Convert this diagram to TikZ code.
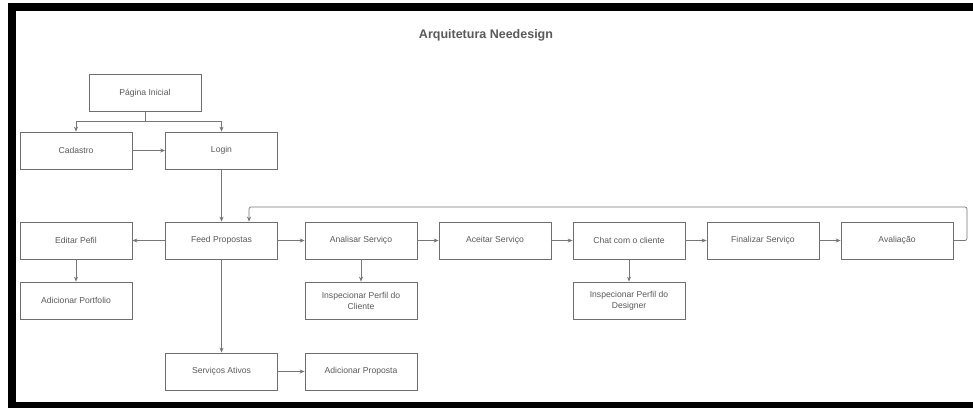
\documentclass[tikz,border=0pt]{standalone}
\usepackage{fontspec}
\setmainfont{Liberation Sans}
\usepackage{tikz}
\usetikzlibrary{arrows.meta}
\usetikzlibrary{backgrounds}

\definecolor{boxgray}{HTML}{6E6E6E}
\definecolor{linegray}{HTML}{777777}
\definecolor{textgray}{HTML}{5A5A5A}

\begin{document}
\begin{tikzpicture}[x=1pt,y=-1pt]
	\useasboundingbox (0,0) rectangle (973,408);
	\fill[white] (0,0) rectangle (973,408);
	\fill[black] (8,3) rectangle (973,408);
	\fill[white] (16,11) rectangle (973,402);

	\node[text=textgray, font=\bfseries\fontsize{12.5}{14}\selectfont] (titulo) at (486,35) {Arquitetura Needesign};

	\begin{scope}[every node/.style={rectangle, draw=boxgray, line width=0.8pt, fill=white,
	              minimum width=112pt, minimum height=37pt, inner sep=0pt, align=center,
	              text=textgray, font=\fontsize{8.6}{11}\selectfont}]
		\node (inicial) at (145,93) {Página Inicial};
		\node (cadastro) at (76,150.5) {Cadastro};
		\node (login) at (221.5,150.5) {Login};
		\node (editar) at (76,240.5) {Editar Pefil};
		\node (feed) at (221.5,240.5) {Feed Propostas};
		\node (analisar) at (361,240.5) {Analisar Serviço};
		\node (aceitar) at (495,240.5) {Aceitar Serviço};
		\node (chat) at (629,240.5) {Chat com o cliente};
		\node (finalizar) at (763,240.5) {Finalizar Serviço};
		\node (avaliacao) at (897,240.5) {Avaliação};
		\node (portfolio) at (76,300.5) {Adicionar Portfolio};
		\node (perfilcliente) at (361,300.5) {Inspecionar Perfil do\\Cliente};
		\node (perfildesigner) at (629,300.5) {Inspecionar Perfil do\\Designer};
		\node (ativos) at (221.5,371.5) {Serviços Ativos};
		\node (proposta) at (361,371.5) {Adicionar Proposta};
	\end{scope}

	\coordinate (fork) at (145,121);
	\coordinate (voltaA) at (967,207);
	\coordinate (voltaB) at (249,207);

	\begin{scope}[>={Stealth[length=5pt,width=4pt]},
	              every edge/.style={draw=linegray, line width=0.7pt, ->}]
		\draw[linegray, line width=0.7pt] (inicial) -- (fork);
		\draw[linegray, line width=0.7pt, ->] (fork) -| (cadastro);
		\draw[linegray, line width=0.7pt, ->] (fork) -| (login);
		\path (cadastro) edge (login);
		\path (login) edge (feed);
		\path (feed) edge (editar);
		\path (editar) edge (portfolio);
		\path (feed) edge (analisar);
		\path (analisar) edge (aceitar);
		\path (aceitar) edge (chat);
		\path (chat) edge (finalizar);
		\path (finalizar) edge (avaliacao);
		\path (analisar) edge (perfilcliente);
		\path (chat) edge (perfildesigner);
		\path (feed) edge (ativos);
		\path (ativos) edge (proposta);
		\draw[linegray, line width=0.7pt, rounded corners=2pt, ->] (avaliacao.east) -| (voltaA) -- (voltaB) -- (voltaB |- feed.north);
	\end{scope}
\end{tikzpicture}
\end{document}
